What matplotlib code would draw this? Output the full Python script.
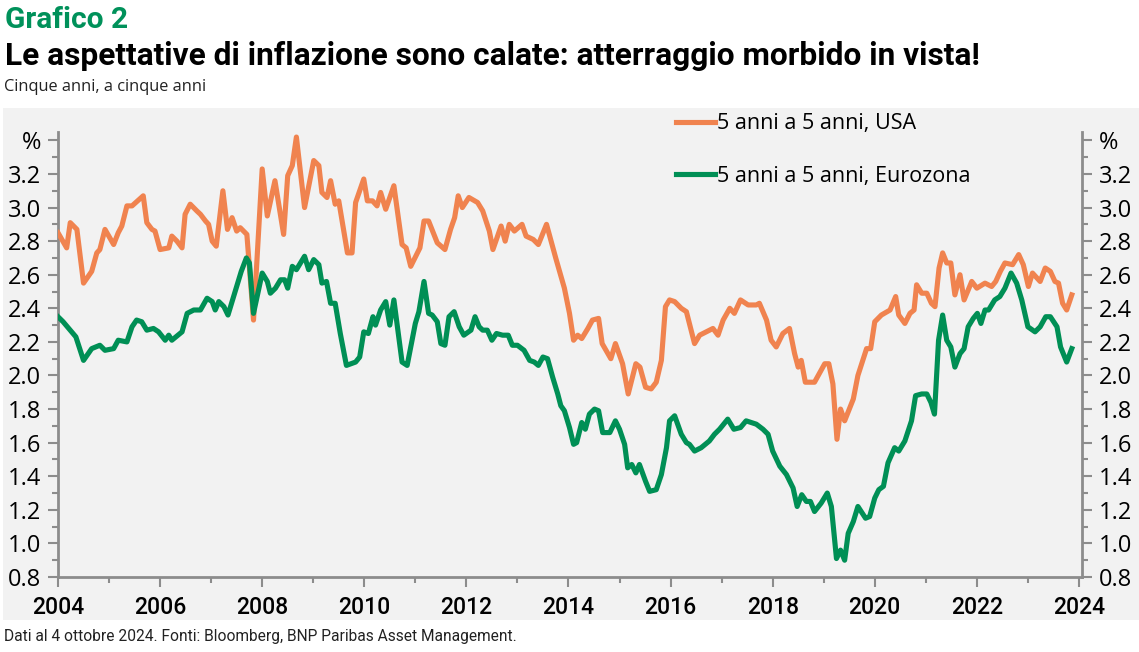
"""
Grafico 2 - aspettative di inflazione 5y5y, USA vs Eurozona
Run: python plot.py  -> out.png
"""

import matplotlib
matplotlib.use("Agg")
import matplotlib.pyplot as plt
from matplotlib.patches import Rectangle
from matplotlib.lines import Line2D


# ---------- Data ----------
usa_t = [
    2004.00, 2004.17, 2004.24, 2004.37, 2004.50, 2004.66, 2004.76, 2004.82, 2004.92,
    2005.09, 2005.18, 2005.25, 2005.35, 2005.45, 2005.67, 2005.74, 2005.84, 2005.90,
    2006.00, 2006.17, 2006.23, 2006.33, 2006.43, 2006.49, 2006.59, 2006.72, 2006.79,
    2006.89, 2006.95, 2007.02, 2007.10, 2007.23, 2007.32, 2007.41, 2007.50, 2007.57,
    2007.70, 2007.83, 2008.00, 2008.10, 2008.25, 2008.42, 2008.50, 2008.59, 2008.67,
    2008.83, 2009.01, 2009.11, 2009.17, 2009.27, 2009.34, 2009.43, 2009.50, 2009.67,
    2009.76, 2009.83, 2009.99, 2010.06, 2010.16, 2010.25, 2010.32, 2010.42, 2010.58,
    2010.74, 2010.82, 2010.91, 2011.09, 2011.17, 2011.26, 2011.43, 2011.58, 2011.69,
    2011.77, 2011.84, 2011.92, 2012.05, 2012.22, 2012.32, 2012.45, 2012.52, 2012.68,
    2012.76, 2012.84, 2012.94, 2013.09, 2013.17, 2013.31, 2013.41, 2013.57, 2013.75,
    2013.92, 2014.02, 2014.10, 2014.18, 2014.26, 2014.38, 2014.47, 2014.59, 2014.66,
    2014.83, 2014.92, 2015.06, 2015.17, 2015.32, 2015.40, 2015.51, 2015.62, 2015.72,
    2015.82, 2015.90, 2015.98, 2016.08, 2016.21, 2016.31, 2016.47, 2016.57, 2016.70,
    2016.83, 2016.93, 2017.03, 2017.16, 2017.25, 2017.37, 2017.52, 2017.68, 2017.74,
    2017.88, 2017.97, 2018.07, 2018.20, 2018.33, 2018.43, 2018.50, 2018.56, 2018.64,
    2018.82, 2019.02, 2019.10, 2019.18, 2019.26, 2019.33, 2019.41, 2019.58, 2019.67,
    2019.84, 2019.92, 2020.00, 2020.13, 2020.30, 2020.41, 2020.47, 2020.59, 2020.69,
    2020.77, 2020.82, 2020.92, 2021.02, 2021.11, 2021.18, 2021.26, 2021.33, 2021.41,
    2021.49, 2021.57, 2021.67, 2021.75, 2021.90, 2022.00, 2022.16, 2022.29, 2022.37,
    2022.46, 2022.55, 2022.70, 2022.82, 2022.91, 2023.01, 2023.09, 2023.24, 2023.34,
    2023.44, 2023.53, 2023.60, 2023.68, 2023.76, 2023.86,
]
usa_v = [
    2.85, 2.76, 2.91, 2.87, 2.55, 2.62, 2.73, 2.75, 2.87,
    2.78, 2.85, 2.89, 3.01, 3.01, 3.07, 2.91, 2.87, 2.86,
    2.75, 2.76, 2.83, 2.80, 2.76, 2.96, 3.02, 2.98, 2.96,
    2.92, 2.90, 2.80, 2.77, 3.10, 2.87, 2.94, 2.86, 2.88,
    2.84, 2.33, 3.23, 2.95, 3.16, 2.84, 3.19, 3.25, 3.42,
    3.00, 3.28, 3.25, 3.09, 3.06, 3.16, 3.02, 3.04, 2.73,
    2.73, 3.03, 3.17, 3.04, 3.04, 3.01, 3.09, 2.99, 3.13,
    2.78, 2.76, 2.65, 2.76, 2.92, 2.92, 2.79, 2.75, 2.87,
    2.94, 3.07, 3.00, 3.06, 3.03, 2.98, 2.86, 2.75, 2.89,
    2.80, 2.90, 2.86, 2.90, 2.83, 2.81, 2.78, 2.90, 2.70,
    2.52, 2.37, 2.21, 2.24, 2.22, 2.28, 2.33, 2.34, 2.19,
    2.10, 2.19, 2.07, 1.89, 2.07, 2.05, 1.93, 1.92, 1.96,
    2.09, 2.41, 2.45, 2.44, 2.40, 2.38, 2.19, 2.24, 2.26,
    2.28, 2.24, 2.33, 2.40, 2.37, 2.45, 2.42, 2.42, 2.43,
    2.33, 2.21, 2.17, 2.25, 2.28, 2.13, 2.05, 2.09, 1.96,
    1.96, 2.07, 2.07, 1.95, 1.62, 1.80, 1.73, 1.86, 2.00,
    2.16, 2.16, 2.32, 2.36, 2.39, 2.47, 2.36, 2.31, 2.37,
    2.39, 2.54, 2.49, 2.49, 2.43, 2.41, 2.64, 2.73, 2.67,
    2.67, 2.48, 2.60, 2.45, 2.56, 2.52, 2.55, 2.53, 2.56,
    2.62, 2.67, 2.66, 2.72, 2.66, 2.53, 2.61, 2.56, 2.64,
    2.62, 2.56, 2.55, 2.43, 2.39, 2.48,
]

eur_t = [
    2004.00, 2004.10, 2004.24, 2004.35, 2004.50, 2004.66, 2004.82, 2004.92, 2005.09,
    2005.18, 2005.35, 2005.45, 2005.54, 2005.64, 2005.74, 2005.87, 2005.97, 2006.10,
    2006.17, 2006.23, 2006.43, 2006.53, 2006.66, 2006.79, 2006.92, 2007.02, 2007.08,
    2007.15, 2007.25, 2007.33, 2007.44, 2007.59, 2007.69, 2007.75, 2007.83, 2008.00,
    2008.10, 2008.16, 2008.26, 2008.36, 2008.44, 2008.50, 2008.59, 2008.67, 2008.83,
    2008.91, 2009.01, 2009.11, 2009.17, 2009.26, 2009.34, 2009.43, 2009.53, 2009.65,
    2009.83, 2009.91, 2009.99, 2010.08, 2010.17, 2010.22, 2010.32, 2010.42, 2010.50,
    2010.58, 2010.74, 2010.84, 2011.00, 2011.07, 2011.17, 2011.26, 2011.33, 2011.43,
    2011.50, 2011.58, 2011.66, 2011.76, 2011.86, 2011.95, 2012.09, 2012.17, 2012.25,
    2012.32, 2012.41, 2012.50, 2012.59, 2012.71, 2012.82, 2012.90, 2013.00, 2013.13,
    2013.24, 2013.33, 2013.41, 2013.50, 2013.59, 2013.69, 2013.79, 2013.85, 2013.92,
    2014.02, 2014.10, 2014.16, 2014.26, 2014.33, 2014.41, 2014.51, 2014.59, 2014.67,
    2014.81, 2014.92, 2015.00, 2015.10, 2015.16, 2015.24, 2015.32, 2015.39, 2015.51,
    2015.59, 2015.72, 2015.82, 2015.92, 2015.98, 2016.08, 2016.21, 2016.31, 2016.37,
    2016.47, 2016.60, 2016.76, 2016.86, 2016.96, 2017.12, 2017.24, 2017.37, 2017.48,
    2017.68, 2017.81, 2017.91, 2018.00, 2018.14, 2018.27, 2018.40, 2018.48, 2018.57,
    2018.66, 2018.74, 2018.82, 2018.95, 2019.07, 2019.15, 2019.25, 2019.33, 2019.41,
    2019.48, 2019.58, 2019.67, 2019.82, 2019.90, 2020.00, 2020.08, 2020.17, 2020.26,
    2020.39, 2020.47, 2020.59, 2020.72, 2020.80, 2020.92, 2021.02, 2021.10, 2021.17,
    2021.25, 2021.33, 2021.41, 2021.49, 2021.57, 2021.67, 2021.75, 2021.83, 2021.93,
    2022.01, 2022.08, 2022.16, 2022.23, 2022.35, 2022.45, 2022.55, 2022.67, 2022.78,
    2022.88, 2023.00, 2023.14, 2023.24, 2023.35, 2023.44, 2023.57, 2023.64, 2023.76,
    2023.86,
]
eur_v = [
    2.35, 2.32, 2.27, 2.23, 2.09, 2.16, 2.18, 2.15, 2.16,
    2.21, 2.20, 2.29, 2.33, 2.32, 2.27, 2.28, 2.26, 2.21,
    2.24, 2.21, 2.26, 2.37, 2.39, 2.39, 2.46, 2.44, 2.39,
    2.44, 2.41, 2.36, 2.47, 2.62, 2.70, 2.67, 2.37, 2.61,
    2.56, 2.49, 2.52, 2.57, 2.57, 2.52, 2.65, 2.63, 2.71,
    2.63, 2.69, 2.66, 2.55, 2.56, 2.43, 2.43, 2.25, 2.06,
    2.08, 2.11, 2.26, 2.25, 2.35, 2.30, 2.39, 2.44, 2.30,
    2.45, 2.08, 2.06, 2.31, 2.38, 2.56, 2.37, 2.36, 2.32,
    2.19, 2.18, 2.35, 2.38, 2.29, 2.24, 2.27, 2.35, 2.29,
    2.27, 2.27, 2.21, 2.25, 2.24, 2.24, 2.18, 2.18, 2.15,
    2.09, 2.08, 2.06, 2.11, 2.10, 1.99, 1.89, 1.82, 1.79,
    1.69, 1.59, 1.60, 1.72, 1.68, 1.77, 1.80, 1.79, 1.66,
    1.66, 1.73, 1.68, 1.59, 1.45, 1.47, 1.42, 1.47, 1.37,
    1.31, 1.32, 1.41, 1.57, 1.73, 1.76, 1.65, 1.60, 1.59,
    1.55, 1.57, 1.61, 1.65, 1.68, 1.74, 1.68, 1.69, 1.73,
    1.71, 1.68, 1.65, 1.55, 1.46, 1.41, 1.33, 1.22, 1.29,
    1.25, 1.25, 1.19, 1.24, 1.30, 1.22, 0.91, 0.96, 0.90,
    1.06, 1.13, 1.22, 1.15, 1.16, 1.27, 1.32, 1.34, 1.48,
    1.57, 1.55, 1.61, 1.73, 1.88, 1.89, 1.89, 1.84, 1.77,
    2.21, 2.36, 2.21, 2.17, 2.05, 2.13, 2.16, 2.29, 2.34,
    2.37, 2.31, 2.39, 2.39, 2.45, 2.47, 2.52, 2.61, 2.55,
    2.45, 2.29, 2.26, 2.29, 2.35, 2.35, 2.29, 2.17, 2.08,
    2.16,
]

x_major = [2004, 2006, 2008, 2010, 2012, 2014, 2016, 2018, 2020, 2022, 2024]
x_minor = list(range(2004, 2025))
y_ticks = [0.8, 1.0, 1.2, 1.4, 1.6, 1.8, 2.0, 2.2, 2.4, 2.6, 2.8, 3.0, 3.2, 3.4]
y_labels = ["0.8", "1.0", "1.2", "1.4", "1.6", "1.8", "2.0", "2.2", "2.4",
            "2.6", "2.8", "3.0", "3.2", "%"]

label_usa = "5 anni a 5 anni, USA"
label_eur = "5 anni a 5 anni, Eurozona"


# ---------- Style ----------
ORANGE = "#F0834F"
GREEN = "#008F55"
TITLE_GREEN = "#00915A"
BG = "#F2F2F2"
AXIS_GREY = "#8C8C8C"
NARROW = ["Roboto", "DejaVu Sans"]
BODY = ["Open Sans", "DejaVu Sans"]

W, H = 1139, 652
fig = plt.figure(figsize=(W / 100, H / 100), dpi=100)
fig.patch.set_facecolor("white")

# grey panel behind the chart
fig.patches.append(Rectangle((3 / W, 1 - 620 / H), (W - 3) / W, (620 - 108) / H,
                             transform=fig.transFigure, facecolor=BG,
                             edgecolor="none", zorder=-5))

ax = fig.add_axes([58 / W, 1 - 577 / H, (1082 - 58) / W, (577 - 132) / H])
ax.set_zorder(2)
ax.set_facecolor(BG)

ax.plot(usa_t, usa_v, color=ORANGE, lw=3.7, solid_joinstyle="round", zorder=3)
ax.plot(eur_t, eur_v, color=GREEN, lw=3.7, solid_joinstyle="round", zorder=4)

ax.set_xlim(2004, 2024.06)
ax.set_ylim(0.8, 3.45)

ax.set_xticks(x_major)
ax.set_xticks(x_minor, minor=True)
ax.set_xticklabels([str(y) for y in x_major], fontsize=16.5, family=NARROW,
                   fontweight="medium")
ax.set_yticks(y_ticks)
ax.set_yticks([0.8 + 0.1 * i for i in range(27)], minor=True)
ax.set_yticklabels(y_labels, fontsize=17, family=BODY)

ax.tick_params(axis="both", which="both", color=AXIS_GREY, width=1.5)
ax.tick_params(axis="x", which="major", length=7, pad=7)
ax.tick_params(axis="x", which="minor", length=4)
ax.tick_params(axis="y", which="major", length=7, pad=5)
ax.tick_params(axis="y", which="minor", length=4)
ax.tick_params(axis="y", which="both", right=True, labelright=True)

for side in ["left", "right", "bottom"]:
    ax.spines[side].set_color(AXIS_GREY)
    ax.spines[side].set_linewidth(2)
ax.spines["top"].set_visible(False)

# legend
handles = [Line2D([], [], color=ORANGE, lw=3.7), Line2D([], [], color=GREEN, lw=3.7)]
fig.legend(handles, [label_usa, label_eur], loc="upper left",
           bbox_to_anchor=(657 / W, 1 - 94 / H), frameon=False,
           prop={"family": BODY, "size": 15.5}, handlelength=1.8,
           handletextpad=0.1, labelspacing=1.45)

# titles
fig.text(5 / W, 1 - 28 / H, "Grafico 2", color=TITLE_GREEN, fontsize=21.5,
         fontweight="bold", family=NARROW, va="baseline")
fig.text(5 / W, 1 - 65 / H,
         "Le aspettative di inflazione sono calate: atterraggio morbido in vista!",
         color="black", fontsize=22.8, fontweight="bold", family=NARROW, va="baseline")
fig.text(4 / W, 1 - 91 / H, "Cinque anni, a cinque anni", color="#222222",
         fontsize=11.8, family=BODY, va="baseline")
fig.text(4 / W, 1 - 641 / H,
         "Dati al 4 ottobre 2024. Fonti: Bloomberg, BNP Paribas Asset Management.",
         color="#222222", fontsize=11.2, family=NARROW, va="baseline")

fig.savefig("out.png", dpi=100, facecolor=fig.get_facecolor())
